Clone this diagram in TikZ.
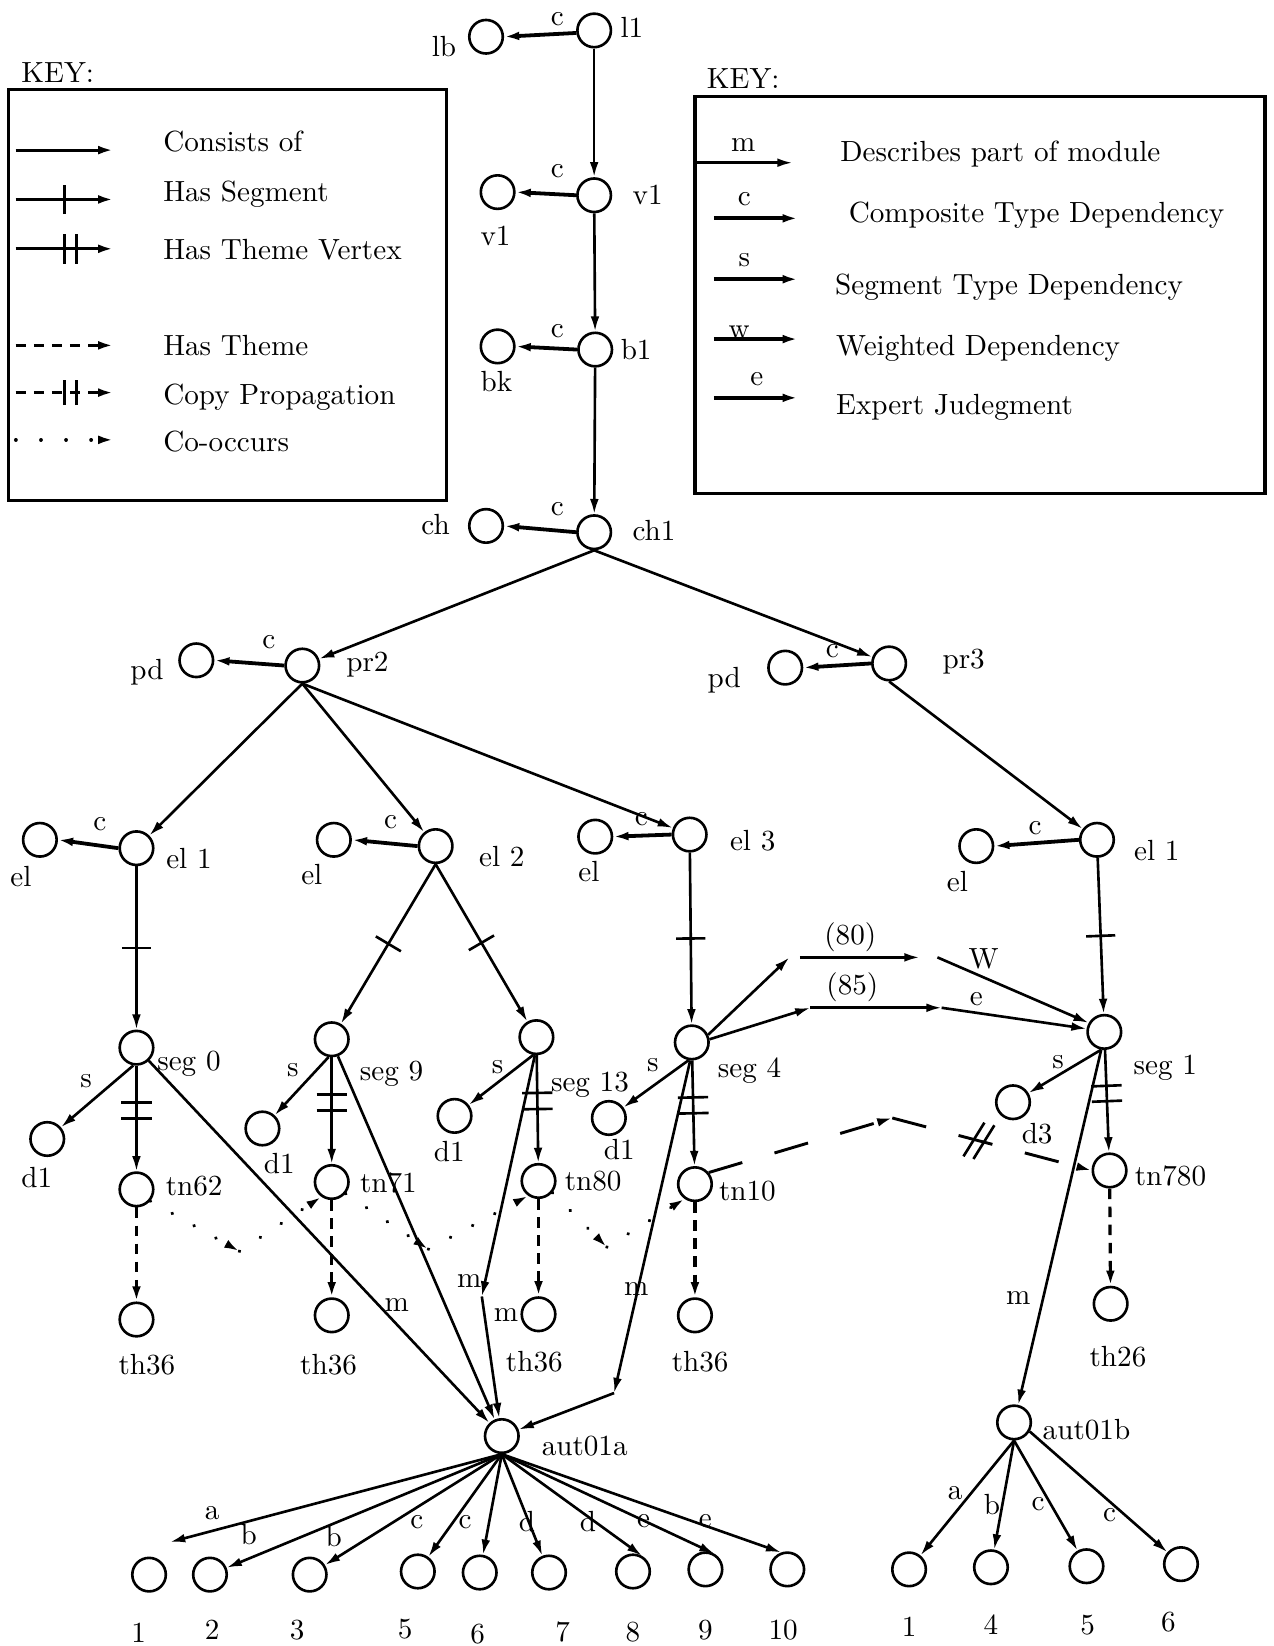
\documentclass[tikz,border=0pt]{standalone}
\usetikzlibrary{arrows.meta,decorations.markings}
\begin{document}
\begin{tikzpicture}[x=0.36pt,y=-0.36pt,
  vtx/.style={circle,draw,line width=0.9pt,minimum size=11.5pt,inner sep=0pt},
  lbl/.style={inner sep=0pt,font=\fontsize{10}{12}\selectfont},
  tipA/.style={-{Latex[length=5.2pt,width=3pt]}},
  con/.style={line width=0.9pt,tipA},
  cmp/.style={line width=1.3pt,tipA},
  hsg/.style={con,postaction={decorate},decoration={markings,mark=at position #1 with {\draw[line width=0.9pt,solid,-] (0,-5pt)--(0,5pt);}}},
  hsg/.default=0.5,
  htv/.style 2 args={con,postaction={decorate},decoration={markings,
     mark=at position #1 with {\draw[line width=0.9pt,solid,-] (0,-5.2pt)--(0,5.2pt);},
     mark=at position #2 with {\draw[line width=0.9pt,solid,-] (0,-5.2pt)--(0,5.2pt);}}},
  thm/.style={line width=1.1pt,dash pattern=on 3.6pt off 2.6pt,tipA},
  cooc/.style={line width=1.2pt,dash pattern=on 0.1pt off 8.5pt,line cap=round,tipA},
  cpy/.style={line width=1pt,dash pattern=on 12pt off 11.5pt,tipA},
]
\useasboundingbox (0,0) rectangle (1213,1568);

% ---------------- left key ----------------
\node[lbl,anchor=base] (keyL) at (55,79) {KEY:};
\draw[line width=1.1pt] (8,85) rectangle (425,477);
\coordinate (L1a) at (15,143); \coordinate (L1b) at (108,143);
\coordinate (L2a) at (15,190); \coordinate (L2b) at (108,190);
\coordinate (L3a) at (15,237); \coordinate (L3b) at (108,237);
\coordinate (L4a) at (15,329); \coordinate (L4b) at (108,329);
\coordinate (L5a) at (15,374); \coordinate (L5b) at (108,374);
\coordinate (L6a) at (15,419); \coordinate (L6b) at (108,419);
\draw[con,line width=1.1pt] (L1a) -- (L1b);
\draw[hsg=0.5,line width=1.1pt] (L2a) -- (L2b);
\draw[htv={0.5}{0.62},line width=1.1pt] (L3a) -- (L3b);
\draw[thm] (L4a) -- (L4b);
\draw[thm,postaction={decorate},decoration={markings,
  mark=at position 0.5 with {\draw[line width=0.9pt,solid,-] (0,-4.3pt)--(0,4.3pt);},
  mark=at position 0.62 with {\draw[line width=0.9pt,solid,-] (0,-4.3pt)--(0,4.3pt);}}] (L5a) -- (L5b);
\draw[cooc] (L6a) -- (L6b);
\node[lbl,anchor=base west] (k1) at (155,144) {Consists of};
\node[lbl,anchor=base west] (k2) at (155,192) {Has Segment};
\node[lbl,anchor=base west] (k3) at (155,247) {Has Theme Vertex};
\node[lbl,anchor=base west] (k4) at (155,339) {Has Theme};
\node[lbl,anchor=base west] (k5) at (155,385) {Copy Propagation};
\node[lbl,anchor=base west] (k6) at (155,430) {Co-occurs};

% ---------------- right key ----------------
\node[lbl,anchor=base] (keyR) at (708,84) {KEY:};
\draw[line width=1.1pt] (662,92) rectangle (1205,470);
\coordinate (R1a) at (662,155); \coordinate (R1b) at (755,155);
\coordinate (R2a) at (680,208); \coordinate (R2b) at (760,208);
\coordinate (R3a) at (680,266); \coordinate (R3b) at (760,266);
\coordinate (R4a) at (680,323); \coordinate (R4b) at (760,323);
\coordinate (R5a) at (680,379); \coordinate (R5b) at (760,379);
\draw[con] (R1a) -- (R1b);
\draw[cmp] (R2a) -- (R2b);
\draw[cmp] (R3a) -- (R3b);
\draw[cmp] (R4a) -- (R4b);
\draw[cmp] (R5a) -- (R5b);
\node[lbl] (rm) at (708,138) {m};
\node[lbl] (rc) at (709,190) {c};
\node[lbl] (rs) at (709,248) {s};
\node[lbl] (rw) at (704,317) {w};
\node[lbl] (re) at (721,361) {e};
\node[lbl,anchor=base west] (r1) at (800,154) {Describes part of module};
\node[lbl,anchor=base west] (r2) at (808,212) {Composite Type Dependency};
\node[lbl,anchor=base west] (r3) at (795,281) {Segment Type Dependency};
\node[lbl,anchor=base west] (r4) at (796,339) {Weighted Dependency};
\node[lbl,anchor=base west] (r5) at (796,395) {Expert Judegment};

% ---------------- top chain ----------------
\node[vtx] (l1) at (566,29) {};
\node[lbl] (l1t) at (602,26) {l1};
\node[vtx] (lb) at (463,35) {};
\node[lbl] (lbt) at (423,44) {lb};
\node[lbl] (c1) at (531,18) {c};
\draw[cmp] (l1.188) -- (lb.east);

\node[vtx] (v1) at (566,186) {};
\node[lbl] (v1t) at (617,186) {v1};
\node[vtx] (v1L) at (474,183) {};
\node[lbl] (v1Lt) at (472,225) {v1};
\node[lbl] (c2) at (531,163) {c};
\draw[cmp] (v1.west) -- (v1L.east);

\node[vtx] (b1) at (567,333) {};
\node[lbl] (b1t) at (606,333) {b1};
\node[vtx] (bk) at (474,330) {};
\node[lbl] (bkt) at (473,363) {bk};
\node[lbl] (c3) at (531,315) {c};
\draw[cmp] (b1.west) -- (bk.east);

\node[vtx] (ch1) at (566,507) {};
\node[lbl] (ch1t) at (623,505) {ch1};
\node[vtx] (ch) at (463,501) {};
\node[lbl] (cht) at (415,500) {ch};
\node[lbl] (c4) at (531,485) {c};
\draw[cmp] (ch1.west) -- (ch.east);

\draw[con] (l1) -- (v1);
\draw[con] (v1) -- (b1);
\draw[con] (b1) -- (ch1);

% ---------------- pr level ----------------
\node[vtx] (pr2) at (288,634) {};
\node[lbl] (pr2t) at (350,633) {pr2};
\node[vtx] (pdA) at (187,629) {};
\node[lbl] (pdAt) at (140,640) {pd};
\node[lbl] (c5) at (256,612) {c};
\draw[cmp] (pr2.west) -- (pdA.east);

\node[vtx] (pr3) at (847,632) {};
\node[lbl] (pr3t) at (918,630) {pr3};
\node[vtx] (pdB) at (748,636) {};
\node[lbl] (pdBt) at (690,648) {pd};
\node[lbl] (c6) at (793,620) {c};
\draw[cmp] (pr3.west) -- (pdB.east);

\draw[con] (ch1.south) -- (pr2);
\draw[con] (ch1.south) -- (pr3);

% ---------------- el level ----------------
\node[vtx] (elA) at (130,808) {};
\node[lbl] (elAt) at (180,818) {el 1};
\node[vtx] (elAx) at (38,800) {};
\node[lbl] (elAxt) at (20,835) {el};
\node[lbl] (c7) at (95,785) {c};
\draw[cmp] (elA.west) -- (elAx.east);

\node[vtx] (elB) at (415,806) {};
\node[lbl] (elBt) at (478,816) {el 2};
\node[vtx] (elBx) at (318,800) {};
\node[lbl] (elBxt) at (297,833) {el};
\node[lbl] (c8) at (372,783) {c};
\draw[cmp] (elB.west) -- (elBx.east);

\node[vtx] (elC) at (657,795) {};
\node[lbl] (elCt) at (717,801) {el 3};
\node[vtx] (elCx) at (567,797) {};
\node[lbl] (elCxt) at (561,830) {el};
\node[lbl] (c9) at (611,780) {c};
\draw[cmp] (elC.west) -- (elCx.east);

\node[vtx] (elD) at (1045,800) {};
\node[lbl] (elDt) at (1102,810) {el 1};
\node[vtx] (elDx) at (930,806) {};
\node[lbl] (elDxt) at (912,840) {el};
\node[lbl] (c10) at (986,789) {c};
\draw[cmp] (elD.west) -- (elDx.east);

\draw[con] (pr2.south) -- (elA);
\draw[con] (pr2.south) -- (elB);
\draw[con] (pr2.south) -- (elC);
\draw[con] (pr3.south) -- (elD);

% ---------------- seg level ----------------
\node[vtx] (seg0) at (130,998) {};
\node[lbl] (seg0t) at (180,1013) {seg 0};
\node[vtx] (seg9) at (316,990) {};
\node[lbl] (seg9t) at (373,1023) {seg 9};
\node[vtx] (seg13) at (511,988) {};
\node[lbl] (seg13t) at (562,1033) {seg 13};
\node[vtx] (seg4) at (659,993) {};
\node[lbl] (seg4t) at (714,1020) {seg 4};
\node[vtx] (seg1) at (1052,983) {};
\node[lbl] (seg1t) at (1110,1017) {seg 1};

\draw[hsg=0.5] (elA) -- (seg0);
\draw[hsg=0.5] (elB.south) -- (seg9);
\draw[hsg=0.5] (elB.south) -- (seg13);
\draw[hsg=0.5] (elC) -- (seg4);
\draw[hsg=0.5] (elD) -- (seg1);

% d nodes
\node[vtx] (dA) at (45,1085) {};
\node[lbl] (dAt) at (35,1122) {d1};
\node[lbl] (sA) at (82,1030) {s};
\node[vtx] (dB) at (250,1075) {};
\node[lbl] (dBt) at (266,1108) {d1};
\node[lbl] (sB) at (279,1019) {s};
\node[vtx] (dC) at (433,1063) {};
\node[lbl] (dCt) at (428,1097) {d1};
\node[lbl] (sC) at (474,1017) {s};
\node[vtx] (dD) at (580,1065) {};
\node[lbl] (dDt) at (590,1095) {d1};
\node[lbl] (sD) at (622,1015) {s};
\node[vtx] (dE) at (965,1050) {};
\node[lbl] (dEt) at (988,1080) {d3};
\node[lbl] (sE) at (1008,1012) {s};
\draw[con] (seg0.-100) -- (dA);
\draw[con] (seg9.-100) -- (dB);
\draw[con] (seg13.-100) -- (dC);
\draw[con] (seg4.-100) -- (dD);
\draw[con] (seg1.-100) -- (dE);

% tn nodes
\node[vtx] (tn62) at (130,1133) {};
\node[lbl] (tn62t) at (185,1130) {tn62};
\node[vtx] (tn71) at (316,1126) {};
\node[lbl] (tn71t) at (370,1127) {tn71};
\node[vtx] (tn80) at (513,1125) {};
\node[lbl] (tn80t) at (565,1125) {tn80};
\node[vtx] (tn10) at (662,1128) {};
\node[lbl] (tn10t) at (712,1135) {tn10};
\node[vtx] (tn780) at (1057,1115) {};
\node[lbl] (tn780t) at (1115,1120) {tn780};
\draw[htv={0.35}{0.5}] (seg0) -- (tn62);
\draw[htv={0.35}{0.5}] (seg9) -- (tn71);
\draw[htv={0.35}{0.5}] (seg13) -- (tn80);
\draw[htv={0.35}{0.5}] (seg4) -- (tn10);
\draw[htv={0.35}{0.5}] (seg1) -- (tn780);

% th nodes
\node[vtx] (th1) at (130,1257) {};
\node[lbl] (th1t) at (140,1300) {th36};
\node[vtx] (th2) at (316,1253) {};
\node[lbl] (th2t) at (313,1300) {th36};
\node[vtx] (th3) at (513,1252) {};
\node[lbl] (th3t) at (509,1297) {th36};
\node[vtx] (th4) at (662,1253) {};
\node[lbl] (th4t) at (667,1297) {th36};
\node[vtx] (th5) at (1058,1242) {};
\node[lbl] (th5t) at (1065,1292) {th26};
\draw[thm] (tn62) -- (th1);
\draw[thm] (tn71) -- (th2);
\draw[thm] (tn80) -- (th3);
\draw[thm] (tn10) -- (th4);
\draw[thm] (tn780) -- (th5);

% co-occurs
\coordinate (cv1) at (228,1192);
\coordinate (cv2) at (408,1190);
\coordinate (cv3) at (578,1188);
\draw[cooc] (tn62.-40) -- (cv1);
\draw[cooc] (cv1) -- (tn71.-125);
\draw[cooc] (tn71.-40) -- (cv2);
\draw[cooc] (cv2) -- (tn80.-125);
\draw[cooc] (tn80.-40) -- (cv3);
\draw[cooc] (cv3) -- (tn10.-125);

% copy propagation
\coordinate (cp1) at (850,1065);
\draw[cpy] (tn10.40) -- (cp1);
\draw[cpy,postaction={decorate},decoration={markings,
  mark=at position 0.41 with {\draw[line width=0.9pt,solid,-] (-2pt,-6.5pt)--(2pt,6.5pt);},
  mark=at position 0.46 with {\draw[line width=0.9pt,solid,-] (-2pt,-6.5pt)--(2pt,6.5pt);}}] (cp1) -- (tn780.west);

% weighted / expert
\coordinate (w0) at (752,912);
\coordinate (w1) at (762,912);
\coordinate (w2) at (876,912);
\coordinate (w3) at (893,912);
\draw[con] (seg4.25) -- (w0);
\draw[con] (w1) -- (w2);
\draw[con] (w3) -- (seg1.150);
\node[lbl] (n80) at (810,893) {(80)};
\node[lbl] (nW) at (937,913) {W};
\coordinate (e0) at (772,960);
\coordinate (e1) at (897,960);
\draw[con] (seg4.10) -- (e0);
\draw[con] (e0) -- (e1);
\draw[con] (e1) -- (seg1.170);
\node[lbl] (n85) at (812,940) {(85)};
\node[lbl] (nE) at (930,952) {e};

% modules
\node[vtx] (autA) at (478,1368) {};
\node[lbl] (autAt) at (557,1378) {aut01a};
\node[vtx] (autB) at (966,1355) {};
\node[lbl] (autBt) at (1035,1362) {aut01b};

\coordinate (m13) at (459,1235);
\coordinate (m4) at (585,1327);
\draw[con] (seg0) -- (autA);
\draw[con] (seg9.-70) -- (autA);
\draw[con] (seg13.-95) -- (m13);
\draw[con] (m13) -- (autA);
\draw[con] (seg4.-95) -- (m4);
\draw[con] (m4) -- (autA);
\draw[con] (seg1.-100) -- (autB);
\node[lbl] (mA) at (378,1243) {m};
\node[lbl] (mB) at (447,1220) {m};
\node[lbl] (mC) at (482,1253) {m};
\node[lbl] (mD) at (606,1228) {m};
\node[lbl] (mE) at (970,1237) {m};

% aut01a children
\node[vtx] (a1) at (142,1500) {};
\node[vtx] (a2) at (200,1500) {};
\node[vtx] (a3) at (295,1500) {};
\node[vtx] (a5) at (398,1497) {};
\node[vtx] (a6) at (457,1498) {};
\node[vtx] (a7) at (523,1498) {};
\node[vtx] (a8) at (603,1497) {};
\node[vtx] (a9) at (672,1495) {};
\node[vtx] (a10) at (750,1495) {};
\node[lbl] (a1t) at (132,1555) {1};
\node[lbl] (a2t) at (202,1553) {2};
\node[lbl] (a3t) at (283,1553) {3};
\node[lbl] (a5t) at (386,1552) {5};
\node[lbl] (a6t) at (455,1557) {6};
\node[lbl] (a7t) at (536,1555) {7};
\node[lbl] (a8t) at (603,1555) {8};
\node[lbl] (a9t) at (672,1553) {9};
\node[lbl] (a10t) at (746,1553) {10};
\coordinate (a1e) at (162,1469);
\draw[con] (autA.south) -- (a1e);
\draw[con] (autA.south) -- (a2);
\draw[con] (autA.south) -- (a3);
\draw[con] (autA.south) -- (a5);
\draw[con] (autA.south) -- (a6);
\draw[con] (autA.south) -- (a7);
\draw[con] (autA.south) -- (a8.60);
\draw[con] (autA.south) -- (a9.60);
\draw[con] (autA.south) -- (a10.110);
\node[lbl] (la1) at (202,1441) {a};
\node[lbl] (la2) at (237,1462) {b};
\node[lbl] (la3) at (318,1464) {b};
\node[lbl] (la5) at (397,1450) {c};
\node[lbl] (la6) at (443,1450) {c};
\node[lbl] (la7) at (502,1449) {d};
\node[lbl] (la8) at (560,1449) {d};
\node[lbl] (la9) at (613,1449) {e};
\node[lbl] (la10) at (672,1449) {e};

% aut01b children
\node[vtx] (b1n) at (866,1495) {};
\node[vtx] (b4n) at (944,1493) {};
\node[vtx] (b5n) at (1035,1492) {};
\node[vtx] (b6n) at (1125,1490) {};
\node[lbl] (b1nt) at (866,1550) {1};
\node[lbl] (b4nt) at (944,1548) {4};
\node[lbl] (b5nt) at (1036,1548) {5};
\node[lbl] (b6nt) at (1113,1545) {6};
\draw[con] (autB.south) -- (b1n);
\draw[con] (autB.south) -- (b4n);
\draw[con] (autB.south) -- (b5n);
\draw[con] (autB.-30) -- (b6n);
\node[lbl] (lb1) at (910,1422) {a};
\node[lbl] (lb4) at (945,1433) {b};
\node[lbl] (lb5) at (989,1433) {c};
\node[lbl] (lb6) at (1057,1443) {c};
\end{tikzpicture}
\end{document}
